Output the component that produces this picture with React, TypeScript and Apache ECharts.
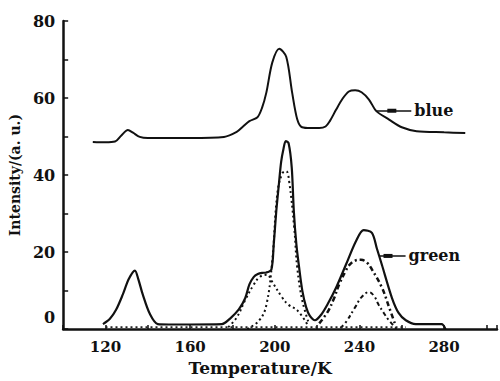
import React, { useEffect, useRef } from "react";
import * as echarts from "echarts";

// Blue sample curve
const blueT = [114, 120, 124.5, 127.5, 130.6, 133, 136.2, 140, 160, 176, 182, 185, 188, 191.8, 194, 196, 198.8, 202.1, 205.4, 208.2, 210.6, 212.9, 217, 221, 224, 226, 229, 232, 235, 238, 241, 244.5, 248, 254, 260, 267, 280, 290];
const blueI = [48.6, 48.5, 48.7, 50.3, 51.7, 51, 49.9, 49.6, 49.6, 49.9, 51.2, 52.6, 54, 55, 57.5, 61.4, 69.2, 72.8, 70.7, 61.4, 54.5, 52.4, 52.2, 52.2, 52.6, 54, 57, 59.8, 61.7, 62, 61.5, 59.6, 56.6, 54.4, 52.4, 51.4, 51.1, 50.9];

// Green sample curve (measured)
const greenT = [118.8, 122, 125, 128.2, 131, 133.9, 135.5, 137.6, 141, 144.7, 150, 160, 175, 179, 183, 186, 188, 190, 192, 194, 196, 198.4, 199.5, 200.7, 202, 203, 204, 205.2, 206.5, 208, 209, 210.2, 211.5, 213, 214.8, 216.5, 219, 222, 225, 229, 233.6, 238.4, 242, 245.9, 248.2, 250.6, 255.3, 258.5, 261.9, 266.6, 278.8, 280.7];
const greenI = [1.3, 2.6, 5, 9, 13, 15.2, 13, 9, 3.9, 1.3, 1.2, 1.2, 1.3, 2.8, 5.1, 8, 11.6, 13.5, 14.3, 14.6, 14.7, 15.5, 22, 30.6, 38, 43.4, 46.5, 48.8, 48.3, 42, 30.6, 22, 16, 10, 5.7, 3.5, 2.3, 3.8, 6.5, 10.8, 16.7, 22.9, 25.7, 25, 21, 16.7, 8.2, 4.2, 2.3, 1.3, 1.3, 0];

// Deconvolved components of the green curve
const peakBT = [178, 182, 186, 190, 193, 196.5, 198.4, 203.5, 206.5, 210.6, 215.3];
const peakBI = [0.5, 3, 7.5, 11.5, 13.6, 14.1, 12.6, 8.2, 6.3, 4.9, 1.3];
const peakCT = [187, 192.7, 196, 198.8, 201.2, 203.5, 205.4, 206.8, 209.2, 210.6, 213, 216.2];
const peakCI = [0, 2.3, 6.2, 17.7, 35.2, 40.4, 41, 38.3, 26.2, 16, 7.4, 1.3];
const peakDT = [221, 225, 228, 230.4, 233.6, 235, 238, 240.7, 243.5, 246, 250.6, 254, 257];
const peakDI = [1.5, 4.5, 8, 11.6, 15.2, 16.5, 17.8, 18, 17.3, 15.4, 10.8, 5.7, 1];
const peakET = [231, 233.6, 238, 241, 244.5, 247, 249, 251.5, 253.9, 257.6];
const peakEI = [0.3, 1.8, 5.7, 8.3, 9.6, 8.5, 6.4, 4.2, 2.3, 0];
const baseT = [120, 150, 185, 220, 262];
const baseI = [0.5, 0.5, 0.5, 0.5, 0.5];

// Axis ticks
const xMin = 100;
const xMax = 305;
const xTickStep = 20;
const xLabelValues = [120, 160, 200, 240, 280];
const yMin = 0;
const yMax = 80;
const yTickStep = 10;
const yLabelValues = [0, 20, 40, 60, 80];

// Curve labels
const blueLabel = { name: "blue", from: [248.2, 56.7], to: [264.5, 56.7], dot: [255.3, 56.7] };
const greenLabel = { name: "green", from: [249.3, 19], to: [261.8, 19], dot: [253.5, 19] };

const zip = (t: number[], v: number[]) => t.map((x, i) => [x, v[i]]);

const FONT = "DejaVu Serif";

export default function App() {
  const ref = useRef<HTMLDivElement>(null);
  useEffect(() => {
    if (!ref.current) return;
    const chart = echarts.init(ref.current, undefined, { renderer: "svg" });
    const solid = (w: number) => ({ color: "#111", width: w, type: "solid" as const });
    const labelMark = (l: typeof blueLabel) => ({
      markLine: {
        silent: true,
        symbol: "none",
        lineStyle: { color: "#111", width: 1.5, type: "solid" },
        label: { show: true, position: "end", formatter: l.name, color: "#111", fontFamily: FONT, fontSize: 16, fontWeight: "bold", distance: 3 },
        emphasis: { disabled: true },
        data: [[{ coord: l.from }, { coord: l.to }]],
      },
      markPoint: {
        silent: true,
        symbol: "rect",
        symbolSize: [9, 4],
        itemStyle: { color: "#111" },
        label: { show: false },
        data: [{ coord: l.dot }],
      },
    });
    chart.setOption({
      animation: false,
      grid: { left: 63, right: 1, top: 21, bottom: 49 },
      xAxis: {
        type: "value",
        min: xMin,
        max: xMax,
        interval: xTickStep,
        name: "Temperature/K",
        nameLocation: "middle",
        nameGap: 28,
        nameTextStyle: { fontFamily: FONT, fontSize: 17, fontWeight: "bold", color: "#111", padding: [0, 40, 0, 0] },
        axisLine: { lineStyle: { color: "#111", width: 2.5 } },
        axisTick: { inside: true, length: 4, lineStyle: { color: "#111", width: 1.5 } },
        axisLabel: {
          fontFamily: FONT,
          fontSize: 15,
          fontWeight: "bold",
          color: "#111",
          margin: 10,
          formatter: (v: number) => (xLabelValues.includes(v) ? String(v) : ""),
        },
        splitLine: { show: false },
      },
      yAxis: {
        type: "value",
        min: yMin,
        max: yMax,
        interval: yTickStep,
        name: "Intensity/(a. u.)",
        nameLocation: "middle",
        nameGap: 37,
        nameTextStyle: { fontFamily: FONT, fontSize: 14, fontWeight: "bold", color: "#111" },
        axisLine: { show: true, lineStyle: { color: "#111", width: 2.5 } },
        axisTick: { show: true, inside: true, length: 5, lineStyle: { color: "#111", width: 1.5 } },
        axisLabel: {
          fontFamily: FONT,
          fontSize: 16,
          fontWeight: "bold",
          color: "#111",
          margin: 8,
          formatter: (v: number) => (v === 0 ? "{z|0}" : yLabelValues.includes(v) ? String(v) : ""),
          rich: { z: { fontFamily: FONT, fontSize: 16, fontWeight: "bold", color: "#111", padding: [0, 0, 24, 0] } },
        },
        splitLine: { show: false },
      },
      series: [
        {
          name: "blue",
          type: "line",
          data: zip(blueT, blueI),
          showSymbol: false,
          smooth: 0.3,
          lineStyle: solid(2),
          ...labelMark(blueLabel),
        },
        {
          name: "green",
          type: "line",
          data: zip(greenT, greenI),
          showSymbol: false,
          smooth: 0.3,
          lineStyle: solid(2.2),
          ...labelMark(greenLabel),
        },
        {
          name: "peakB",
          type: "line",
          data: zip(peakBT, peakBI),
          showSymbol: false,
          smooth: 0.4,
          lineStyle: { color: "#111", width: 2, type: [2, 3] },
        },
        {
          name: "peakC",
          type: "line",
          data: zip(peakCT, peakCI),
          showSymbol: false,
          smooth: 0.4,
          lineStyle: { color: "#111", width: 2, type: [2, 3] },
        },
        {
          name: "peakD",
          type: "line",
          data: zip(peakDT, peakDI),
          showSymbol: false,
          smooth: 0.4,
          lineStyle: { color: "#111", width: 2.5, type: [5, 3, 2, 3] },
        },
        {
          name: "peakE",
          type: "line",
          data: zip(peakET, peakEI),
          showSymbol: false,
          smooth: 0.4,
          lineStyle: { color: "#111", width: 2, type: [4, 3, 2, 3] },
        },
        {
          name: "baseline",
          type: "line",
          data: zip(baseT, baseI),
          showSymbol: false,
          lineStyle: { color: "#222", width: 1.8, type: [2, 3] },
        },
      ],
    });
    return () => chart.dispose();
  }, []);
  return <div ref={ref} style={{ position: "absolute", left: 0, top: 0, width: 500, height: 381 }} />;
}
